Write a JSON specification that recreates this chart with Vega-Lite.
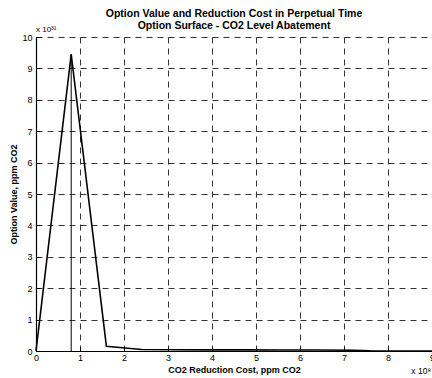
{
  "$schema": "https://vega.github.io/schema/vega-lite/v6.json",
  "width": 396,
  "height": 314,
  "autosize": {"type": "none"},
  "padding": {"left": 36, "top": 37, "right": 0, "bottom": 27},
  "background": "white",
  "title": {
    "text": ["Option Value and Reduction Cost in Perpetual Time", "Option Surface - CO2 Level Abatement"],
    "font": "Liberation Sans",
    "fontSize": 10.5,
    "fontWeight": "bold",
    "color": "black",
    "anchor": "middle",
    "frame": "group",
    "offset": -5,
    "lineHeight": 12
  },
  "config": {
    "view": {"stroke": null},
    "axis": {
      "labelFont": "Liberation Sans",
      "labelFontSize": 9,
      "labelColor": "black",
      "labelOverlap": false,
      "labelFlush": false,
      "titleFont": "Liberation Sans",
      "titleFontSize": 9,
      "titleFontWeight": "bold",
      "titleColor": "black",
      "domainColor": "black",
      "domainWidth": 1.2,
      "tickColor": "black",
      "tickSize": -4,
      "grid": true,
      "gridColor": "#333333",
      "gridDash": [6, 5],
      "gridWidth": 1
    }
  },
  "datasets": {
    "curve": [
      {"cost": 0, "value": 0},
      {"cost": 0.8, "value": 9.45},
      {"cost": 1.6, "value": 0.15},
      {"cost": 2.4, "value": 0.05},
      {"cost": 3.2, "value": 0.04},
      {"cost": 4.0, "value": 0.035},
      {"cost": 4.8, "value": 0.035},
      {"cost": 5.6, "value": 0.03},
      {"cost": 6.4, "value": 0.03},
      {"cost": 7.2, "value": 0.025},
      {"cost": 7.6, "value": 0.005},
      {"cost": 9.0, "value": 0}
    ],
    "peak": [{"cost": 0.8, "low": 0, "value": 9.45}],
    "notes": [
      {"cost": 0, "value": 10, "label": "x 10³¹", "where": "top"},
      {"cost": 9, "value": 0, "label": "x 10⁸", "where": "bottom"}
    ]
  },
  "encoding": {
    "x": {
      "field": "cost", "type": "quantitative",
      "scale": {"domain": [0, 9], "nice": false},
      "axis": {"values": [0,1,2,3,4,5,6,7,8,9], "tickCount": 30, "format": "d", "title": "CO2 Reduction Cost, ppm CO2", "titlePadding": 3, "labelPadding": 6}
    },
    "y": {
      "field": "value", "type": "quantitative",
      "scale": {"domain": [0, 10], "nice": false},
      "axis": {"values": [0,1,2,3,4,5,6,7,8,9,10], "tickCount": 30, "format": "d", "title": "Option Value, ppm CO2", "titlePadding": 3, "labelPadding": 8}
    }
  },
  "layer": [
    {
      "data": {"name": "curve"},
      "mark": {"type": "line", "color": "black", "strokeWidth": 1.6}
    },
    {
      "data": {"name": "peak"},
      "mark": {"type": "rule", "color": "black", "strokeWidth": 1},
      "encoding": {
        "y2": {"field": "low"}
      }
    },
    {
      "data": {"name": "notes"},
      "transform": [{"filter": "datum.where == 'top'"}],
      "mark": {"type": "text", "font": "Liberation Sans", "fontSize": 8, "align": "left", "baseline": "bottom", "dx": 0, "dy": -3, "color": "black"},
      "encoding": {
        "text": {"field": "label"}
      }
    },
    {
      "data": {"name": "notes"},
      "transform": [{"filter": "datum.where == 'bottom'"}],
      "mark": {"type": "text", "font": "Liberation Sans", "fontSize": 8.5, "align": "right", "baseline": "bottom", "dx": -1, "dy": 25, "color": "black"},
      "encoding": {
        "text": {"field": "label"}
      }
    }
  ]
}
